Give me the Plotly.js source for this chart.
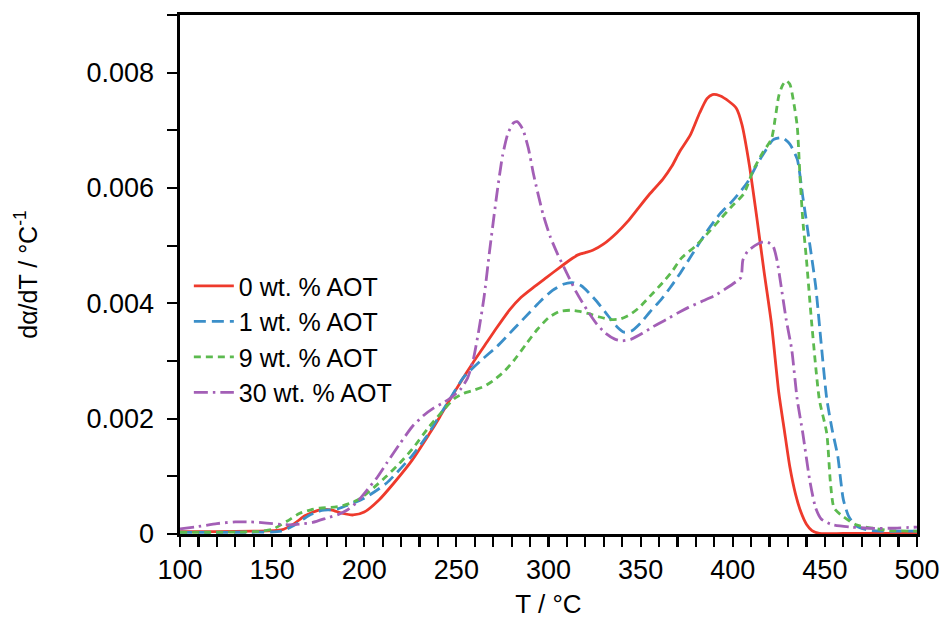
<!DOCTYPE html>
<html>
<head>
<meta charset="utf-8">
<script src="https://cdn.plot.ly/plotly-3.0.1.min.js"></script>
<style>html,body{margin:0;padding:0;background:#fff;}#chart{width:945px;height:619px;}</style>
</head>
<body>
<div id="chart"></div>
<script>
// Temperature (°C) and dα/dT (×1e-3 °C⁻¹)
const seriesNames = ["0 wt. % AOT", "1 wt. % AOT", "9 wt. % AOT", "30 wt. % AOT"];

const T0 = [100,120,140,155,162,168,176,182,188,194,200,208,216,226,235,241,245,252,259,265,272,279,285,292,299,306,312,316,320,324,330,337,343,348,355,362,367,371,377,382,386,389,393,398,402,405,409,413,417,421,425,428,431,434,437,440,443,447,460,480,500];
const V0 = [0.04,0.04,0.05,0.07,0.18,0.32,0.42,0.42,0.36,0.33,0.38,0.59,0.88,1.28,1.72,2.03,2.25,2.62,2.97,3.25,3.58,3.89,4.1,4.28,4.45,4.62,4.76,4.84,4.88,4.92,5.03,5.22,5.42,5.62,5.9,6.15,6.38,6.62,6.92,7.3,7.55,7.62,7.6,7.5,7.38,7.1,6.4,5.5,4.55,3.65,2.45,1.8,1.16,0.7,0.38,0.17,0.06,0.01,0.01,0.01,0.01];

const T1 = [100,130,155,162,170,177,182,186,191,200,212,226,234,241,248,254,263,272,281,290,296,302,308,313,318,322,326,331,337,341,345,350,355,361,366,371,378,386,393,400,408,413,418,422,427,431,435,438,442,445,448,451,454,457,460,463,467,473,480,500];
const V1 = [0.03,0.03,0.05,0.15,0.32,0.41,0.42,0.44,0.5,0.62,0.88,1.36,1.7,2.06,2.42,2.72,3.0,3.25,3.55,3.85,4.05,4.22,4.33,4.36,4.3,4.18,4.04,3.84,3.6,3.5,3.52,3.66,3.85,4.06,4.27,4.5,4.85,5.25,5.55,5.78,6.1,6.4,6.66,6.84,6.87,6.76,6.5,5.85,4.98,4.3,3.3,2.35,1.8,1.35,0.6,0.3,0.14,0.07,0.05,0.05];

const T9 = [100,140,150,158,165,171,176,182,187,193,198,205,212,219,226,235,243,249,254,260,265,270,276,281,288,294,300,306,312,317,322,327,333,339,344,349,355,362,367,372,380,386,393,400,406,411,416,421,423,425,427,429,431,433,435,436.5,438,440,443,447,451,453,455,460,467,476,485,500];
const V9 = [0.03,0.04,0.08,0.22,0.36,0.42,0.45,0.46,0.48,0.54,0.62,0.8,1.0,1.22,1.47,1.85,2.15,2.35,2.44,2.5,2.56,2.66,2.82,3.0,3.3,3.55,3.75,3.86,3.88,3.86,3.82,3.77,3.72,3.73,3.8,3.92,4.12,4.36,4.55,4.78,5.0,5.2,5.45,5.7,5.9,6.3,6.6,6.85,7.2,7.6,7.78,7.86,7.8,7.5,7.07,6.2,5.45,4.76,3.6,2.33,1.75,0.9,0.45,0.3,0.16,0.1,0.06,0.05];

const T30 = [100,110,120,130,138,147,158,165,172,180,186,191,196,202,207,212,219,226,232,237,242,247,252,256,259,262,265,268,272,275,278,281,283,286,289,292,297,301,305,310,315,321,326,331,336,340,345,351,357,364,370,376,383,390,396,402,404.5,405.5,408,412,416,419,422,424,426,429,432,435,438,442,445,448,454,464,475,485,500];
const V30 = [0.09,0.13,0.18,0.21,0.21,0.19,0.16,0.17,0.2,0.28,0.34,0.42,0.55,0.78,0.98,1.22,1.55,1.86,2.05,2.17,2.26,2.36,2.5,2.7,3.0,3.5,4.1,4.9,5.9,6.55,6.95,7.13,7.15,7.02,6.7,6.22,5.55,5.15,4.85,4.52,4.2,3.88,3.65,3.48,3.38,3.35,3.38,3.48,3.6,3.72,3.83,3.93,4.03,4.13,4.25,4.38,4.45,4.75,4.9,5.0,5.06,5.06,4.98,4.75,4.35,3.72,3.2,2.33,1.75,0.89,0.45,0.26,0.16,0.12,0.1,0.1,0.12];

const yTickVals = [0, 0.002, 0.004, 0.006, 0.008];
const yTickText = ["0", "0.002", "0.004", "0.006", "0.008"];
const yMinorVals = [0.001, 0.003, 0.005, 0.007, 0.009];
const xTickVals = [100,150,200,250,300,350,400,450,500];

const colors = ["#ee3a2c", "#3b8fc9", "#5cba4f", "#a35fb6"];
const dashes = ["solid", "12px,6px", "7px,5px", "14px,5px,2.5px,5px"];

const scale = v => v.map(x => x / 1000);
const xs = [T0, T1, T9, T30];
const ys = [V0, V1, V9, V30];

const traces = xs.map((x, i) => ({
  x: x, y: scale(ys[i]), name: seriesNames[i], type: "scatter", mode: "lines",
  line: {color: colors[i], width: 2.8, dash: dashes[i], shape: "spline", smoothing: 0.6}
}));

const font = "Liberation Sans, Arial, Helvetica, sans-serif";
const layout = {
  width: 945, height: 619,
  margin: {l: 180, r: 28, t: 15, b: 85},
  paper_bgcolor: "#fff", plot_bgcolor: "#fff",
  showlegend: true,
  legend: {x: 0.012, y: 0.522, xanchor: "left", yanchor: "top", bgcolor: "rgba(0,0,0,0)",
    font: {family: font, size: 25, color: "#000"}, tracegroupgap: 0, itemwidth: 40},
  xaxis: {
    range: [100, 500], tickvals: xTickVals, ticks: "outside", ticklen: 10, tickwidth: 2.2,
    tickcolor: "#000", showline: true, linecolor: "#000", linewidth: 2.6, mirror: true,
    showgrid: false, zeroline: false,
    tickfont: {family: font, size: 27, color: "#000"},
    minor: {dtick: 10, ticks: "outside", ticklen: 10, tickwidth: 2.2, tickcolor: "#000", showgrid: false},
    title: {text: "T / °C", font: {family: font, size: 26, color: "#000"}, standoff: 12}
  },
  yaxis: {
    range: [0, 0.009], tickvals: yTickVals, ticktext: yTickText, ticks: "outside", ticklen: 10, tickwidth: 2.2,
    tickcolor: "#000", showline: true, linecolor: "#000", linewidth: 2.6, mirror: true,
    showgrid: false, zeroline: false, ticklabelstandoff: 8,
    tickfont: {family: font, size: 27, color: "#000"},
    minor: {tickvals: yMinorVals, ticks: "outside", ticklen: 10, tickwidth: 2.2, tickcolor: "#000", showgrid: false},
    title: {text: "dα/dT / °C<sup>-1</sup>", font: {family: font, size: 25, color: "#000"}, standoff: 42}
  }
};

Plotly.newPlot("chart", traces, layout, {staticPlot: true, displayModeBar: false});
</script>
</body>
</html>
